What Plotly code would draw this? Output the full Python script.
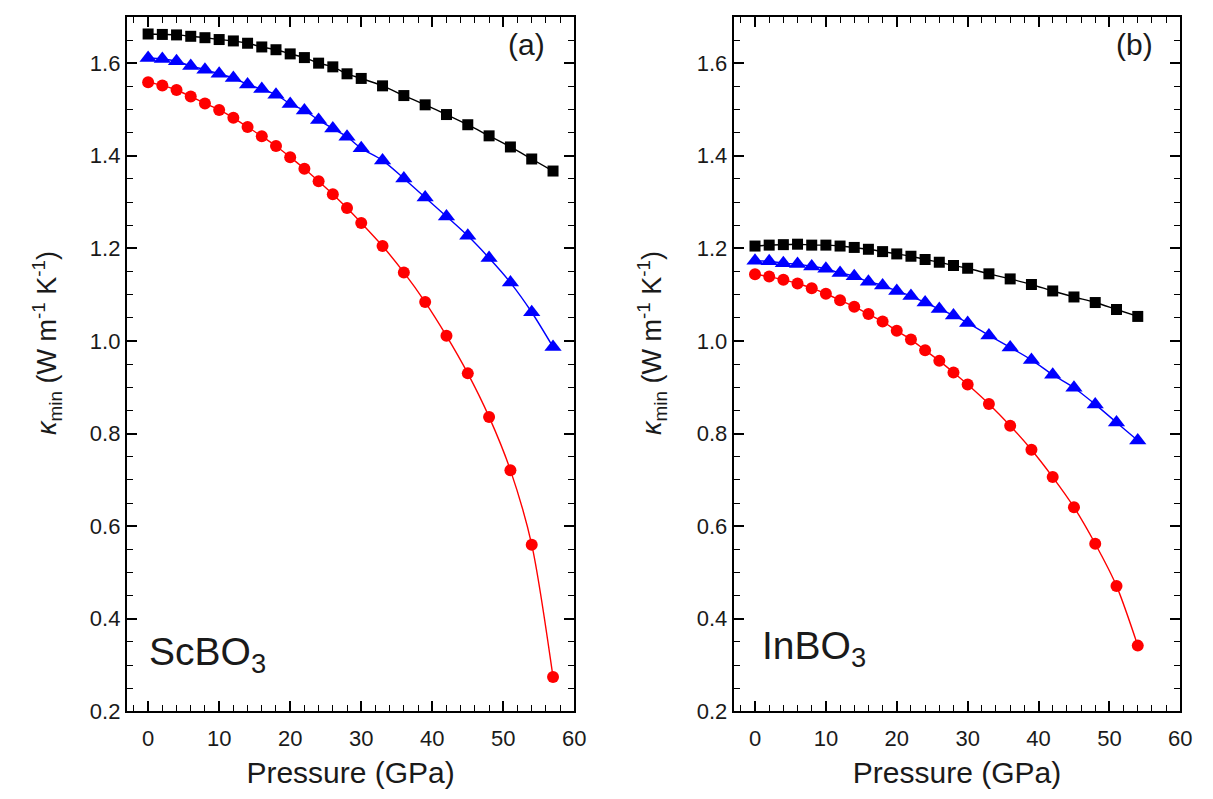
import plotly.graph_objects as go

# ---------------- data ----------------
pressure_a = [0, 2, 4, 6, 8, 10, 12, 14, 16, 18, 20, 22, 24, 26, 28, 30,
              33, 36, 39, 42, 45, 48, 51, 54, 57]
sc_black = [1.663, 1.662, 1.661, 1.658, 1.655, 1.651, 1.648, 1.643, 1.635, 1.629,
            1.620, 1.612, 1.600, 1.592, 1.577, 1.567, 1.551, 1.530, 1.510, 1.489,
            1.467, 1.443, 1.419, 1.393, 1.367]
sc_blue = [1.611, 1.609, 1.604, 1.594, 1.586, 1.577, 1.568, 1.554, 1.544, 1.532,
           1.512, 1.498, 1.477, 1.459, 1.441, 1.416, 1.390, 1.351, 1.310, 1.269,
           1.227, 1.179, 1.126, 1.062, 0.987]
sc_red = [1.559, 1.552, 1.542, 1.528, 1.513, 1.499, 1.482, 1.462, 1.442, 1.421,
          1.397, 1.372, 1.345, 1.317, 1.287, 1.255, 1.205, 1.148, 1.084, 1.011,
          0.930, 0.836, 0.721, 0.560, 0.274]

pressure_b = [0, 2, 4, 6, 8, 10, 12, 14, 16, 18, 20, 22, 24, 26, 28, 30,
              33, 36, 39, 42, 45, 48, 51, 54]
in_black = [1.205, 1.207, 1.208, 1.209, 1.207, 1.207, 1.205, 1.202, 1.198, 1.193,
            1.188, 1.183, 1.176, 1.170, 1.163, 1.157, 1.145, 1.134, 1.122, 1.108,
            1.095, 1.083, 1.068, 1.053]
in_blue = [1.173, 1.172, 1.168, 1.166, 1.161, 1.156, 1.147, 1.140, 1.128, 1.120,
           1.108, 1.097, 1.083, 1.069, 1.055, 1.039, 1.012, 0.986, 0.959, 0.927,
           0.899, 0.863, 0.824, 0.785]
in_red = [1.144, 1.139, 1.132, 1.124, 1.114, 1.102, 1.088, 1.074, 1.058, 1.042,
          1.022, 1.003, 0.980, 0.957, 0.932, 0.906, 0.864, 0.817, 0.765, 0.706,
          0.641, 0.562, 0.471, 0.342]

x_ticks = [0, 10, 20, 30, 40, 50, 60]
y_ticks = [0.2, 0.4, 0.6, 0.8, 1.0, 1.2, 1.4, 1.6]
panel_labels = ["(a)", "(b)"]
compound_labels = ["ScBO<sub>3</sub>", "InBO<sub>3</sub>"]
y_title = "<i>κ</i><sub>min</sub> (W m<sup>-1</sup> K<sup>-1</sup>)"
x_title = "Pressure (GPa)"

FONT = "Liberation Sans, Arial, sans-serif"
BLACK, BLUE, RED = "#000000", "#0000FF", "#FF0000"
TXT = "#1a1a1a"

fig = go.Figure()

def add_series(x, y, color, symbol, size, xa, ya):
    fig.add_trace(go.Scatter(
        x=x, y=y, mode="lines+markers", xaxis=xa, yaxis=ya,
        line=dict(color=color, width=1.4, shape="spline", smoothing=0.8),
        marker=dict(color=color, symbol=symbol, size=size, line=dict(width=0)),
        showlegend=False, cliponaxis=False))

add_series(pressure_a, sc_black, BLACK, "square", 11, "x", "y")
add_series(pressure_a, sc_blue, BLUE, "triangle-up", 15, "x", "y")
add_series(pressure_a, sc_red, RED, "circle", 12, "x", "y")
add_series(pressure_b, in_black, BLACK, "square", 11, "x2", "y2")
add_series(pressure_b, in_blue, BLUE, "triangle-up", 15, "x2", "y2")
add_series(pressure_b, in_red, RED, "circle", 12, "x2", "y2")

W, H = 1213, 799
ybot, ytop = 1 - 715 / H, 1 - 9 / H

xaxis_common = dict(
    range=[-3, 60], tickvals=x_ticks, ticks="inside", ticklen=10, tickwidth=1.5,
    tickcolor="black", showline=True, linecolor="black", linewidth=2, mirror="ticks",
    showgrid=False, zeroline=False, ticklabelstandoff=6,
    tickfont=dict(family=FONT, size=22, color=TXT),
    minor=dict(dtick=2, tick0=0, ticks="inside", ticklen=6, tickwidth=1.2, tickcolor="black"),
    title=dict(text=x_title, font=dict(family=FONT, size=30, color=TXT), standoff=12),
)
yaxis_common = dict(
    range=[0.2, 1.7], tickvals=y_ticks, ticks="inside", ticklen=10, tickwidth=1.5,
    tickcolor="black", showline=True, linecolor="black", linewidth=2, mirror="ticks",
    showgrid=False, zeroline=False, tickformat=".1f",
    tickfont=dict(family=FONT, size=22, color=TXT),
    minor=dict(dtick=0.05, tick0=0.2, ticks="inside", ticklen=6, tickwidth=1.2, tickcolor="black"),
)

fig.update_layout(
    width=W, height=H, margin=dict(l=0, r=0, t=0, b=0),
    paper_bgcolor="white", plot_bgcolor="white",
    xaxis=dict(domain=[120 / W, 572 / W], anchor="y", **xaxis_common),
    yaxis=dict(domain=[ybot, ytop], anchor="x", **yaxis_common),
    xaxis2=dict(domain=[733 / W, 1184 / W], anchor="y2", **xaxis_common),
    yaxis2=dict(domain=[ybot, ytop], anchor="x2", **yaxis_common),
)

ann_font = dict(family=FONT, color=TXT)
annotations = [
    dict(text=panel_labels[0], x=53.3, y=1.64, xref="x", yref="y", showarrow=False,
         xanchor="center", yanchor="middle", font=dict(size=30, **ann_font)),
    dict(text=panel_labels[1], x=53.6, y=1.64, xref="x2", yref="y2", showarrow=False,
         xanchor="center", yanchor="middle", font=dict(size=30, **ann_font)),
    dict(text=compound_labels[0], x=-0.2, y=0.322, xref="x", yref="y", showarrow=False,
         xanchor="left", yanchor="middle", font=dict(size=39, **ann_font)),
    dict(text=compound_labels[1], x=0.7, y=0.336, xref="x2", yref="y2", showarrow=False,
         xanchor="left", yanchor="middle", font=dict(size=39, **ann_font)),
    dict(text=y_title, x=40 / W, y=1 - 341 / H, xref="paper", yref="paper", showarrow=False,
         xanchor="center", yanchor="middle", textangle=-90, font=dict(size=27, **ann_font)),
    dict(text=y_title, x=651 / W, y=1 - 341 / H, xref="paper", yref="paper", showarrow=False,
         xanchor="center", yanchor="middle", textangle=-90, font=dict(size=27, **ann_font)),
]
fig.update_layout(annotations=annotations)

fig.write_html("out.html")
